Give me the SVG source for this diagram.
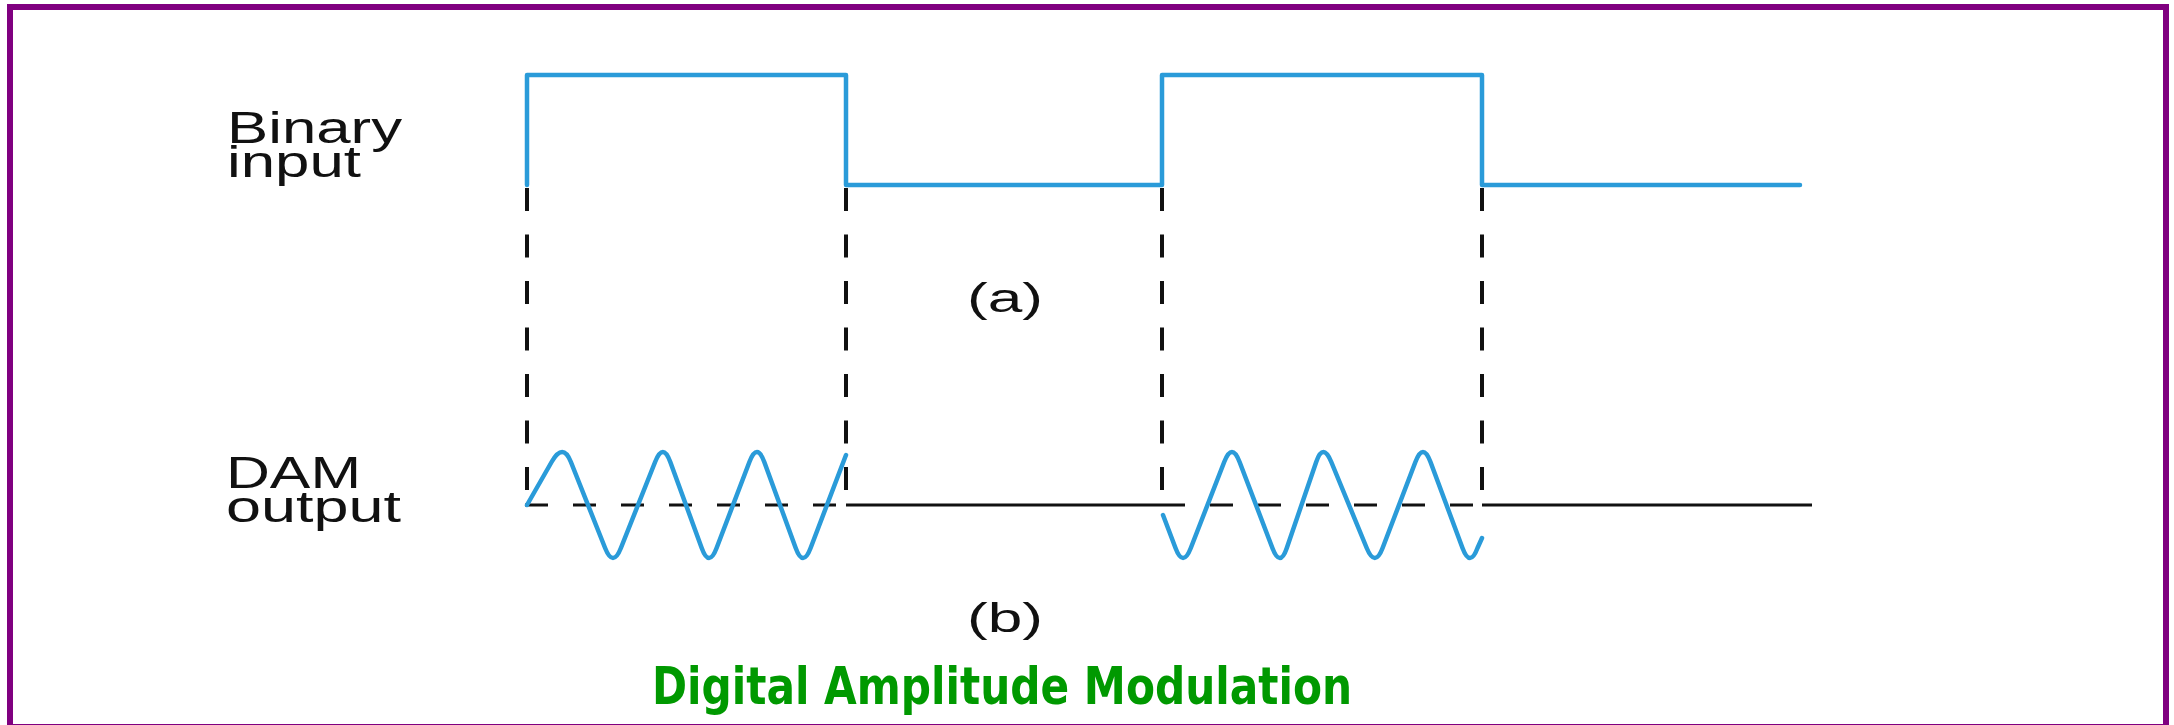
<svg xmlns="http://www.w3.org/2000/svg" width="2174" height="725" viewBox="0 0 2174 725">
  <style>
    .lbl { font-family: "Liberation Sans", Arial, sans-serif; font-size: 44px; fill: #111; }
    .cap { font-family: "Liberation Sans", Arial, sans-serif; font-size: 40px; fill: #111; }
    .title { font-family: "DejaVu Sans Condensed", "DejaVu Sans", sans-serif; font-weight: bold; font-size: 51px; fill: #009900; }
    .blue { fill: none; stroke: #2a9bd9; stroke-width: 4.5; stroke-linejoin: round; stroke-linecap: round; }
    .vdash { stroke: #111; stroke-width: 4; stroke-dasharray: 23 23.5; fill: none; }
    .hdash { stroke: #111; stroke-width: 3; stroke-dasharray: 23 25; fill: none; }
    .hsolid { stroke: #111; stroke-width: 3; fill: none; }
  </style>
  <rect x="0" y="0" width="2174" height="725" fill="#ffffff"/>
  <rect id="frame" x="10" y="7" width="2156" height="720" fill="none" stroke="#800080" stroke-width="6"/>

  <g id="label-binary">
    <text class="lbl" x="227" y="143" textLength="175" lengthAdjust="spacingAndGlyphs">Binary</text>
    <text class="lbl" x="227" y="177" textLength="134" lengthAdjust="spacingAndGlyphs">input</text>
  </g>
  <g id="label-dam">
    <text class="lbl" x="226" y="488" textLength="135" lengthAdjust="spacingAndGlyphs">DAM</text>
    <text class="lbl" x="226" y="522" textLength="175" lengthAdjust="spacingAndGlyphs">output</text>
  </g>

  <g id="signal-binary">
    <path class="blue" stroke-linecap="butt" d="M527,185 V75 H846 V185 H1162 V75 H1482 V185 H1800"/>
  </g>

  <g id="baseline-dam">
    <line class="hdash" x1="525" y1="505" x2="846" y2="505"/>
    <line class="hsolid" x1="846" y1="505" x2="1162" y2="505"/>
    <line class="hdash" x1="1162" y1="505" x2="1482" y2="505"/>
    <line class="hsolid" x1="1482" y1="505" x2="1812" y2="505"/>
  </g>

  <g id="signal-dam">
    <path class="blue" d="M527,505 L551.6,462 Q563,442 570.9,462 L605.1,548 Q613,568 620.9,548 L655.1,462 Q663,442 670.3,462 L701.7,548 Q709,568 716.6,548 L749.4,462 Q757,442 764.3,462 L795.7,548 Q803,568 810.6,548 L846,455"/>
    <path class="blue" d="M1163,515 L1175.5,548 Q1183,568 1190.8,548 L1224.2,462 Q1232,442 1239.6,462 L1272.4,548 Q1280,568 1286.8,548 L1316.2,462 Q1323,442 1331.3,462 L1366.7,548 Q1375,568 1382.6,548 L1415.4,462 Q1423,442 1430.5,462 L1462.5,548 Q1470,568 1477.5,548 L1482,538"/>
  </g>

  <g id="connectors">
    <line class="vdash" x1="527" y1="188" x2="527" y2="490"/>
    <line class="vdash" x1="846" y1="188" x2="846" y2="490"/>
    <line class="vdash" x1="1162" y1="188" x2="1162" y2="490"/>
    <line class="vdash" x1="1482" y1="188" x2="1482" y2="490"/>
  </g>

  <g id="captions">
    <text class="cap" x="1005" y="312" text-anchor="middle" textLength="76" lengthAdjust="spacingAndGlyphs">(a)</text>
    <text class="cap" x="1005" y="632" text-anchor="middle" textLength="76" lengthAdjust="spacingAndGlyphs">(b)</text>
    <text class="title" x="1002" y="704" text-anchor="middle" textLength="700" lengthAdjust="spacingAndGlyphs">Digital Amplitude Modulation</text>
  </g>
</svg>
